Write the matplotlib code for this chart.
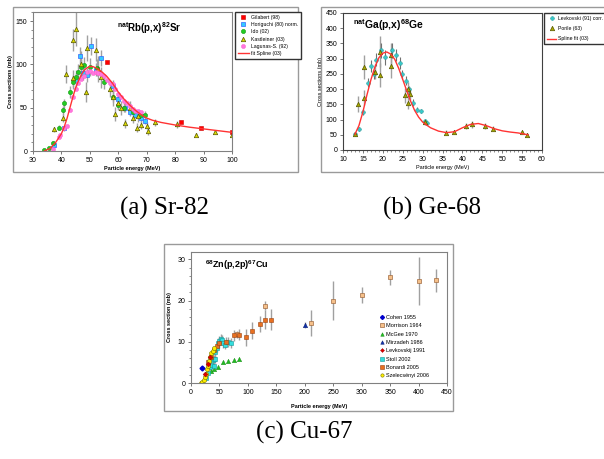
import matplotlib
matplotlib.use("Agg")
import matplotlib.pyplot as plt
from matplotlib.patches import Rectangle

plt.rcParams['font.family'] = ['Liberation Sans', 'DejaVu Sans']
plt.rcParams['mathtext.fontset'] = 'custom'
plt.rcParams['mathtext.rm'] = 'Liberation Sans:bold'
plt.rcParams['mathtext.bf'] = 'Liberation Sans:bold'
plt.rcParams['mathtext.default'] = 'bf'

# ---------------- (a) Sr-82 ----------------
gil_x = [56, 82, 89, 100]
gil_y = [103, 33, 27, 22]

hor_x = [37.5, 41, 45, 46.5, 47.5, 49, 50.5, 52, 54, 58, 60, 62.5, 64, 66, 68, 69.5]
hor_y = [7, 26, 82, 110, 90, 88, 121, 94, 107, 75, 60, 50, 45, 42, 38, 35]
hor_err = [2, 3, 8, 10, 8, 8, 10, 8, 9, 7, 6, 5, 5, 4, 4, 4]

ido_x = [34, 35.5, 37, 39, 40.5, 41, 43, 44, 45, 46, 47, 48, 50, 52.5, 55, 58, 60, 62, 65, 68, 69.5]
ido_y = [1, 4, 9, 27, 47, 55, 68, 80, 85, 91, 97, 99, 97, 96, 80, 62, 53, 50, 45, 42, 42]
ido_err = [1, 1, 2, 3, 5, 5, 7, 8, 8, 9, 9, 10, 10, 10, 8, 6, 5, 5, 5, 4, 4]

kas_x = [37.5, 40.5, 41.5, 44, 44, 45, 47, 48.5, 49, 52, 53, 54, 57, 58, 59, 60, 61,
         62.5, 64, 65, 66.5, 67, 68, 70, 70.5, 73, 80.5, 87.5, 94, 100]
kas_y = [25, 38, 89, 84, 128, 141, 100, 68, 119, 117, 95, 85, 72, 62, 43, 55, 50,
         32, 50, 38, 27, 40, 30, 29, 23, 33, 31, 19, 22, 19]
kas_err = [3, 5, 10, 10, 13, 20, 15, 12, 15, 13, 15, 12, 10, 10, 8, 8, 8,
           5, 8, 6, 5, 6, 5, 4, 4, 4, 4, 2, 2, 2]

lag_x = [37, 39, 39.5, 41, 42, 43, 44, 45, 46, 47, 48, 49, 50, 51, 52, 53, 54, 55, 56,
         57, 58, 59, 60, 61, 62, 63, 64, 65, 66, 67, 68]
lag_y = [2, 16, 18, 26, 29, 47, 62, 72, 78, 83, 87, 91, 92, 90, 91, 90, 89, 86, 82,
         79, 77, 72, 66, 62, 58, 55, 52, 48, 46, 46, 45]

spl_a_x = [34, 36, 38, 40, 41, 42, 43, 44, 45, 46, 47, 48, 49, 50, 51, 52, 54, 56, 58,
           60, 62, 64, 66, 68, 70, 72, 75, 80, 85, 90, 95, 100]
spl_a_y = [0, 3, 10, 20, 28, 38, 50, 62, 73, 81, 88, 93, 96, 97.5, 97.5, 96, 92, 86, 78,
           68, 60, 53, 47, 42, 38, 35.5, 33, 30, 27.5, 25.5, 23.5, 21.5]

# ---------------- (b) Ge-68 ----------------
lev_x = [13.1, 14, 15, 16.2, 17.1, 17.8, 18.4, 19.5, 20.6, 22.2, 23.2, 24.2, 24.9, 25.8,
         26.5, 27.6, 28.6, 29.5, 30.6, 31]
lev_y = [54, 70, 125, 221, 277, 248, 297, 327, 305, 327, 312, 286, 248, 227,
         199, 156, 133, 128, 95, 89]
lev_err = [5, 6, 10, 15, 20, 15, 20, 25, 25, 25, 20, 20, 15, 15, 12, 10, 8, 8, 6, 6]

por_x = [13.1, 13.8, 15.2, 15.2, 17.95, 19.2, 19.2, 22.1, 22.1, 25.7, 26.4, 26.4, 26.8,
         30.5, 35.8, 37.8, 40.8, 42.5, 45.8, 47.6, 55, 56.2]
por_y = [54, 151, 272, 172, 257, 247, 323, 276, 312, 180, 155, 199, 183,
         92, 57, 59, 80, 84, 78, 70, 58, 50]
por_err = [5, 25, 40, 25, 25, 40, 50, 40, 40, 25, 20, 25, 20,
           10, 8, 8, 10, 12, 10, 8, 6, 5]

spl_b_x = [13, 14, 15, 16, 17, 18, 19, 20, 21, 22, 23, 24, 25, 26, 27, 28, 29, 30, 31,
           32, 34, 36, 38, 40, 42, 44, 46, 48, 50, 52, 54, 56.5]
spl_b_y = [52, 80, 125, 180, 230, 272, 303, 318, 322, 315, 298, 268, 232, 195, 160, 130,
           108, 92, 82, 73, 62, 57, 60, 73, 84, 87, 80, 70, 63, 59, 56, 50]

# ---------------- (c) Cu-67 ----------------
coh_x = [20]
coh_y = [3.7]

mor_x = [80, 130, 211, 250, 300, 350, 400, 430]
mor_y = [11.8, 18.8, 14.6, 20.0, 21.3, 25.7, 24.7, 24.9]
mor_err = [0.8, 1.0, 3.2, 4.7, 2.0, 1.8, 5.8, 2.8]

mcg_x = [35, 40, 47, 56, 65, 75, 85]
mcg_y = [2.8, 3.3, 3.8, 5.2, 5.3, 5.6, 5.9]

mir_x = [200]
mir_y = [14.1]
mir_err = [0.7]

lev_c_x = [25, 30, 33]
lev_c_y = [2.3, 4.7, 6.2]

sto_x = [27, 30, 33, 35, 38, 40, 40, 42, 43, 45, 47, 50, 53, 55, 57, 60, 65, 70]
sto_y = [1.2, 2.5, 3.8, 4.3, 5.5, 5.8, 4.2, 7.5, 5.8, 8.5, 9.8, 10.2, 10.7, 10.4, 9.6, 9.3, 10.0, 9.8]
sto_err = [0.3, 0.4, 0.6, 0.7, 0.8, 0.9, 0.8, 1.0, 0.9, 1.0, 1.1, 1.2, 1.2, 1.2, 1.1, 1.1, 1.2, 1.2]

bon_x = [30, 35, 40, 45, 50, 62, 75, 85, 97, 108, 121, 130, 140]
bon_y = [5.2, 6.3, 7.9, 9.0, 9.7, 10.0, 11.6, 11.7, 11.1, 12.7, 14.3, 15.4, 15.4]
bon_err = [0.6, 0.7, 0.9, 1.0, 1.1, 1.2, 1.3, 1.3, 2.0, 2.0, 1.9, 2.4, 2.5]

sze_x = [17, 20, 23, 25, 27, 28, 30, 32, 34, 36, 38, 40]
sze_y = [0.1, 0.2, 0.8, 1.4, 2.1, 3.3, 4.2, 5.3, 6.3, 7.2, 7.8, 8.5]

# ================= figure =================
W, H = 604, 459
fig = plt.figure(figsize=(W / 100, H / 100), dpi=100)

def fx(px):
    return px / W

def fy(py):
    return 1 - py / H

def frame(x0, y0, x1, y1):
    fig.patches.append(Rectangle((fx(x0), fy(y1)), fx(x1 - x0), (y1 - y0) / H,
                                 transform=fig.transFigure, fill=False,
                                 edgecolor='#9a9a9a', lw=1.0))

frame(13, 7, 298, 172)
frame(321, 7, 640, 172)
frame(164, 244, 453, 411)

ERR = '#a0a0a0'
TK = 5
LB = 4

def style(ax):
    for s in ax.spines.values():
        s.set_color('#808080')
        s.set_linewidth(0.8)
    ax.tick_params(labelsize=TK, length=2.5, width=0.6, color='#606060', pad=1.5)
    ax.tick_params(which='minor', length=1.5, width=0.5, color='#606060')

# ---- (a)
axa = fig.add_axes([fx(33), fy(151), fx(232 - 33), (151 - 12) / H])
axa.errorbar(kas_x, kas_y, yerr=kas_err, fmt='none', ecolor=ERR, elinewidth=1)
axa.errorbar(hor_x, hor_y, yerr=hor_err, fmt='none', ecolor=ERR, elinewidth=1)
axa.errorbar(ido_x, ido_y, yerr=ido_err, fmt='none', ecolor=ERR, elinewidth=1)
h_gil, = axa.plot(gil_x, gil_y, 's', ms=3.2, color='#ff0000', mec='#cc0000', mew=0.4, label='Gilabert (98)')
h_hor, = axa.plot(hor_x, hor_y, 's', ms=3.4, color='#33ccff', mec='#3366ff', mew=0.5, label='Horiguchi (80) norm.')
h_ido, = axa.plot(ido_x, ido_y, 'o', ms=3, color='#22cc22', mec='#119911', mew=0.4, label='Ido (02)')
h_kas, = axa.plot(kas_x, kas_y, '^', ms=3.2, color='#dddd00', mec='#555500', mew=0.5, label='Kastleiner (03)')
h_lag, = axa.plot(lag_x, lag_y, 'o', ms=3, color='#ff77dd', mec='#ff55cc', mew=0.3, label='Lagunas-S. (92)')
h_spa, = axa.plot(spl_a_x, spl_a_y, '-', color='#ff3333', lw=1.0, label='fit Spline (03)')
axa.set_xlim(30, 100)
axa.set_ylim(0, 160.4)
axa.set_xticks(range(30, 101, 10))
axa.set_yticks([0, 50, 100, 150])
axa.set_yticks(range(0, 161, 10), minor=True)
style(axa)
axa.set_xlabel('Particle energy (MeV)', fontsize=LB, fontweight='bold', labelpad=2)
axa.set_ylabel('Cross sections (mb)', fontsize=LB, fontweight='bold', labelpad=2)
axa.text(71, 142, r'$^{nat}$Rb(p,x)$^{82}$Sr', fontsize=7, fontweight='bold', ha='center', va='center')
fig.legend(handles=[h_gil, h_hor, h_ido, h_kas, h_lag, h_spa], loc='upper left',
           bbox_to_anchor=(fx(235), fy(12)), bbox_transform=fig.transFigure,
           fontsize=3.7, frameon=True, fancybox=False, edgecolor='#333333',
           borderpad=0.5, labelspacing=0.45, handlelength=2.2, handletextpad=0.4,
           borderaxespad=0, framealpha=1)

# ---- (b)
axb = fig.add_axes([fx(343), fy(150), fx(542 - 343), (150 - 13) / H])
axb.errorbar(por_x, por_y, yerr=por_err, fmt='none', ecolor=ERR, elinewidth=1)
axb.errorbar(lev_x, lev_y, yerr=lev_err, fmt='none', ecolor='#707070', elinewidth=0.8)
h_lev, = axb.plot(lev_x, lev_y, 'P', ms=3, color='#33cccc', mec='#229999', mew=0.3, label='Levkovski (91) corr.')
h_por, = axb.plot(por_x, por_y, '^', ms=3.2, color='#aaaa00', mec='#555500', mew=0.5, label='Porile (63)')
h_spb, = axb.plot(spl_b_x, spl_b_y, '-', color='#ff3333', lw=1.0, label='Spline fit (03)')
axb.set_xlim(10, 60)
axb.set_ylim(0, 450)
axb.set_xticks(range(10, 61, 5))
axb.set_xticks(range(10, 61, 1), minor=True)
axb.set_yticks(range(0, 451, 50))
style(axb)
for s in axb.spines.values():
    s.set_color('#404040')
axb.set_xlabel('Particle energy (MeV)', fontsize=LB, labelpad=2)
axb.set_ylabel('Cross sections (mb)', fontsize=LB, labelpad=2)
axb.text(12.5, 410, r'$^{nat}$Ga(p,x)$^{68}$Ge', fontsize=7.5, fontweight='bold', ha='left', va='center')
fig.legend(handles=[h_lev, h_por, h_spb], loc='upper left',
           bbox_to_anchor=(fx(544), fy(13)), bbox_transform=fig.transFigure,
           fontsize=3.7, frameon=True, fancybox=False, edgecolor='#333333',
           borderpad=0.6, labelspacing=1.0, handlelength=1.8, handletextpad=0.4,
           borderaxespad=0, framealpha=1)

# ---- (c)
axc = fig.add_axes([fx(191), fy(383), fx(447 - 191), (383 - 252) / H])
axc.errorbar(mor_x, mor_y, yerr=mor_err, fmt='none', ecolor=ERR, elinewidth=1)
axc.errorbar(bon_x, bon_y, yerr=bon_err, fmt='none', ecolor=ERR, elinewidth=1)
axc.errorbar(sto_x, sto_y, yerr=sto_err, fmt='none', ecolor=ERR, elinewidth=1)
axc.errorbar(mir_x, mir_y, yerr=mir_err, fmt='none', ecolor=ERR, elinewidth=1)
hc1, = axc.plot(coh_x, coh_y, 'D', ms=2.5, color='#0000cc', label='Cohen 1955')
hc2, = axc.plot(mor_x, mor_y, 's', ms=3.5, color='#f5c08a', mec='#a06a40', mew=0.5, label='Morrison 1964')
hc3, = axc.plot(mcg_x, mcg_y, '^', ms=3.2, color='#22bb22', mec='#118811', mew=0.3, label='McGee 1970')
hc4, = axc.plot(mir_x, mir_y, '^', ms=3.2, color='#1133aa', mec='#001166', mew=0.3, label='Mirzadeh 1986')
hc6, = axc.plot(sto_x, sto_y, 's', ms=3.2, color='#33dddd', mec='#119999', mew=0.4, label='Stoll 2002')
hc7, = axc.plot(bon_x, bon_y, 's', ms=3.2, color='#e87020', mec='#994010', mew=0.4, label='Bonardi 2005')
hc8, = axc.plot(sze_x, sze_y, 'o', ms=3, color='#ffee00', mec='#777700', mew=0.4, label='Szelecsényi 2006')
hc5, = axc.plot(lev_c_x, lev_c_y, 'D', ms=2.5, color='#dd0000', mec='#990000', mew=0.3, label='Levkovskij 1991')
axc.set_xlim(0, 450)
axc.set_ylim(0, 31.8)
axc.set_xticks(range(0, 451, 50))
axc.set_yticks([0, 10, 20, 30])
axc.set_yticks(range(0, 32, 2), minor=True)
style(axc)
axc.set_xlabel('Particle energy (MeV)', fontsize=LB, fontweight='bold', labelpad=6)
axc.set_ylabel('Cross section (mb)', fontsize=LB, fontweight='bold', labelpad=4)
axc.text(25, 28.5, r'$^{68}$Zn(p,2p)$^{67}$Cu', fontsize=6.5, fontweight='bold', ha='left', va='center')
axc.legend(handles=[hc1, hc2, hc3, hc4, hc5, hc6, hc7, hc8], loc='upper left',
           bbox_to_anchor=(fx(380), fy(315)), bbox_transform=fig.transFigure,
           fontsize=4, frameon=False, borderpad=0, labelspacing=0.6,
           handlelength=0.8, handletextpad=0.3, borderaxespad=0, markerscale=0.8)

# ---- captions
cap = dict(fontsize=18, family=['Liberation Serif', 'DejaVu Serif'], ha='center', va='center')
fig.text(fx(164), fy(208), '(a) Sr-82', **cap)
fig.text(fx(432), fy(208), '(b) Ge-68', **cap)
fig.text(fx(304), fy(432), '(c) Cu-67', **cap)

fig.savefig('out.png', dpi=100)
